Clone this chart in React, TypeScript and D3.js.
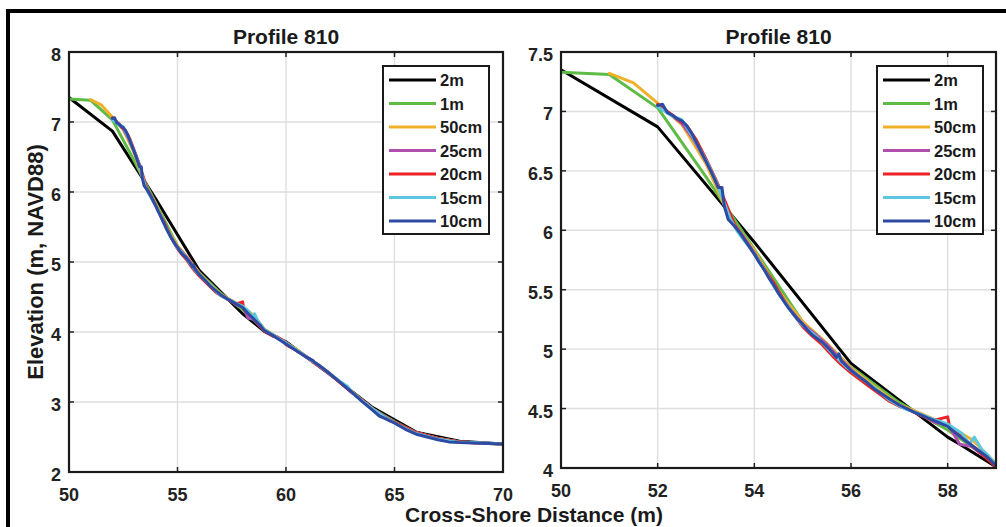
import React from "react";
import * as d3 from "d3";

type Pt = [number, number];

const seriesNames = ["2m", "1m", "50cm", "25cm", "20cm", "15cm", "10cm"];
const seriesColors = ["#000000", "#5DBB46", "#EFB12A", "#B04FAE", "#EE2224", "#5CC8E0", "#2E4BA4"];

const s2m: Pt[] = [
  [50, 7.35], [52, 6.87], [54, 5.9], [56, 4.88], [58, 4.26], [58.25, 4.2], [59, 4.01],
  [60, 3.86], [62, 3.4], [64, 2.92], [66, 2.57], [68, 2.44], [70, 2.4],
];
const s1m: Pt[] = [
  [50, 7.33], [51, 7.31], [52, 7.03], [53, 6.45], [54, 5.84], [55, 5.23], [56, 4.85], [57, 4.55],
  [58, 4.32], [59, 4.04], [60, 3.85], [61, 3.63], [62, 3.41], [63, 3.16], [64, 2.9], [65, 2.72],
  [66, 2.56], [67, 2.48], [68, 2.43], [69, 2.41], [70, 2.4],
];
const s50cm: Pt[] = [
  [51, 7.32], [51.5, 7.24], [52, 7.07], [52.5, 6.89], [53, 6.56], [53.5, 6.1], [54, 5.83], [54.5, 5.49],
  [55, 5.23], [55.5, 5.05], [56, 4.84], [56.5, 4.68], [57, 4.53], [57.5, 4.45], [58, 4.36], [58.5, 4.24],
  [59, 4.04], [59.5, 3.94], [60, 3.84], [60.5, 3.75], [61, 3.63], [61.5, 3.53], [62, 3.41], [62.5, 3.28],
  [63, 3.15], [63.5, 3.02], [64, 2.9], [64.5, 2.8], [65, 2.71], [65.5, 2.63], [66, 2.56], [67, 2.48],
  [68, 2.43], [69, 2.41], [70, 2.4],
];
const s25cm: Pt[] = [
  [52, 7.05], [52.25, 6.98], [52.5, 6.9], [52.75, 6.76], [53, 6.58], [53.25, 6.38], [53.5, 6.1], [53.75, 5.96],
  [54, 5.81], [54.25, 5.64], [54.5, 5.47], [54.75, 5.33], [55, 5.21], [55.25, 5.13], [55.5, 5.04], [55.75, 4.93],
  [56, 4.83], [56.25, 4.74], [56.5, 4.66], [56.75, 4.58], [57, 4.52], [57.25, 4.48], [57.5, 4.44], [57.75, 4.38],
  [58, 4.37], [58.25, 4.2], [58.5, 4.18], [58.75, 4.1], [59, 4.03], [59.5, 3.94], [60, 3.85], [60.5, 3.73],
  [61, 3.64], [61.5, 3.52], [62, 3.4], [62.5, 3.28], [63, 3.14], [63.5, 3.03], [64, 2.9], [64.5, 2.8],
  [65, 2.71], [66, 2.56], [67, 2.48], [68, 2.43], [70, 2.4],
];
const s20cm: Pt[] = [
  [52, 7.06], [52.2, 7.0], [52.4, 6.94], [52.6, 6.88], [52.8, 6.76], [53, 6.6], [53.2, 6.43], [53.4, 6.24],
  [53.6, 6.04], [53.8, 5.92], [54, 5.8], [54.2, 5.68], [54.4, 5.56], [54.6, 5.42], [54.8, 5.3], [55, 5.19],
  [55.2, 5.11], [55.4, 5.04], [55.6, 4.95], [55.8, 4.87], [56, 4.8], [56.2, 4.74], [56.4, 4.68], [56.6, 4.62],
  [56.8, 4.56], [57, 4.52], [57.2, 4.49], [57.4, 4.45], [57.7, 4.4], [58, 4.43], [58.05, 4.33], [58.3, 4.26],
  [58.5, 4.19], [58.7, 4.12], [59, 4.01], [59.4, 3.94], [59.6, 3.93], [59.8, 3.89], [60, 3.82], [60.4, 3.75],
  [60.8, 3.67], [61.2, 3.58], [61.6, 3.5], [62, 3.41], [62.4, 3.3], [62.8, 3.2], [63.2, 3.1], [63.6, 3.0],
  [64, 2.9], [64.4, 2.8], [64.8, 2.73], [65.2, 2.68], [66, 2.56], [67, 2.48], [68, 2.43], [70, 2.4],
];
const s15cm: Pt[] = [
  [52, 7.04], [52.15, 7.0], [52.3, 6.96], [52.45, 6.94], [52.5, 6.93], [52.6, 6.87], [52.75, 6.77], [52.9, 6.66],
  [53.05, 6.55], [53.2, 6.42], [53.35, 6.26], [53.5, 6.1], [53.65, 5.99], [53.8, 5.91], [53.95, 5.83], [54.1, 5.74],
  [54.25, 5.64], [54.4, 5.53], [54.55, 5.44], [54.7, 5.36], [54.85, 5.27], [55, 5.2], [55.3, 5.1], [55.6, 4.97],
  [55.9, 4.85], [56.2, 4.76], [56.5, 4.67], [56.8, 4.57], [57.1, 4.5], [57.4, 4.46], [57.7, 4.41], [58, 4.37],
  [58.3, 4.29], [58.45, 4.2], [58.55, 4.26], [58.7, 4.16], [58.85, 4.1], [59, 4.03], [59.5, 3.94], [60, 3.84],
  [60.5, 3.74], [61, 3.63], [61.5, 3.53], [62, 3.41], [62.5, 3.29], [62.85, 3.22], [63, 3.15], [63.5, 3.02],
  [64, 2.9], [64.5, 2.79], [65, 2.7], [65.5, 2.62], [66, 2.55], [67, 2.47], [68, 2.42], [68.7, 2.42], [70, 2.4],
];
const s10cm: Pt[] = [
  [52.0, 7.05], [52.1, 7.06], [52.2, 6.99], [52.3, 6.97], [52.4, 6.94], [52.5, 6.92], [52.6, 6.88], [52.7, 6.82],
  [52.8, 6.74], [52.9, 6.66], [53.0, 6.58], [53.1, 6.5], [53.2, 6.41], [53.25, 6.36], [53.33, 6.36], [53.38, 6.2],
  [53.46, 6.09], [53.6, 6.03], [53.7, 5.98], [53.8, 5.92], [53.9, 5.86], [54.0, 5.8], [54.1, 5.73], [54.2, 5.67],
  [54.3, 5.6], [54.4, 5.54], [54.5, 5.47], [54.6, 5.41], [54.7, 5.35], [54.8, 5.3], [54.9, 5.25], [55.0, 5.21],
  [55.1, 5.16], [55.2, 5.12], [55.3, 5.09], [55.4, 5.06], [55.5, 5.02], [55.6, 4.98], [55.7, 4.93], [55.75, 4.96],
  [55.8, 4.9], [55.9, 4.86], [56.0, 4.82], [56.1, 4.79], [56.2, 4.76], [56.3, 4.73], [56.5, 4.66], [56.8, 4.58],
  [57, 4.53], [57.3, 4.47], [57.6, 4.42], [58, 4.35], [58.3, 4.25], [58.6, 4.16], [58.8, 4.1], [59, 4.02],
  [59.5, 3.93], [60, 3.83], [60.5, 3.73], [61, 3.63], [61.25, 3.59], [61.3, 3.57], [61.5, 3.53], [62, 3.41],
  [62.5, 3.28], [63, 3.15], [63.5, 3.01], [64, 2.88], [64.3, 2.8], [64.6, 2.76], [65, 2.7], [65.5, 2.61],
  [66, 2.54], [66.5, 2.5], [67, 2.46], [67.5, 2.43], [68, 2.42], [69, 2.41], [70, 2.4],
];

const allSeries: Pt[][] = [s2m, s1m, s50cm, s25cm, s20cm, s15cm, s10cm];

const leftXTicks = [50, 55, 60, 65, 70];
const leftYTicks = [2, 3, 4, 5, 6, 7, 8];
const rightXTicks = [50, 52, 54, 56, 58];
const rightYTicks = [4, 4.5, 5, 5.5, 6, 6.5, 7, 7.5];
const leftXDomain: [number, number] = [50, 70];
const leftYDomain: [number, number] = [2, 8];
const rightXDomain: [number, number] = [50, 59];
const rightYDomain: [number, number] = [4, 7.5];
const panelTitle = "Profile 810";
const xLabel = "Cross-Shore Distance (m)";
const yLabel = "Elevation (m, NAVD88)";

const FONT = "'Liberation Sans', Arial, Helvetica, sans-serif";

type PanelProps = {
  id: string;
  x0: number; x1: number; y0: number; y1: number;
  xDomain: [number, number]; yDomain: [number, number];
  xTicks: number[]; yTicks: number[];
  legendX: number; legendY: number;
};

function Panel(p: PanelProps) {
  const xs = d3.scaleLinear().domain(p.xDomain).range([p.x0, p.x1]);
  const ys = d3.scaleLinear().domain(p.yDomain).range([p.y1, p.y0]);
  const line = d3.line<Pt>().x((d) => xs(d[0])).y((d) => ys(d[1]));
  const tickLen = 5;
  const fmt = (v: number) => d3.format("~g")(v);
  const legW = 106;
  const rowH = 23.5;
  const legH = 168;
  return (
    <g>
      <defs>
        <clipPath id={`clip-${p.id}`}>
          <rect x={p.x0} y={p.y0} width={p.x1 - p.x0} height={p.y1 - p.y0} />
        </clipPath>
      </defs>
      <rect x={p.x0} y={p.y0} width={p.x1 - p.x0} height={p.y1 - p.y0} fill="#fff" />
      {p.xTicks.map((t) => (
        <line key={`gx${t}`} x1={xs(t)} x2={xs(t)} y1={p.y0} y2={p.y1} stroke="#dedede" strokeWidth={1.4} />
      ))}
      {p.yTicks.map((t) => (
        <line key={`gy${t}`} x1={p.x0} x2={p.x1} y1={ys(t)} y2={ys(t)} stroke="#dedede" strokeWidth={1.4} />
      ))}
      <g clipPath={`url(#clip-${p.id})`}>
        {allSeries.map((s, i) => (
          <path key={i} d={line(s) || ""} fill="none" stroke={seriesColors[i]} strokeWidth={3}
            strokeLinejoin="round" strokeLinecap="round" />
        ))}
      </g>
      {p.xTicks.map((t) => (
        <g key={`tx${t}`}>
          <line x1={xs(t)} x2={xs(t)} y1={p.y1} y2={p.y1 - tickLen} stroke="#222" strokeWidth={1.5} />
          <line x1={xs(t)} x2={xs(t)} y1={p.y0} y2={p.y0 + tickLen} stroke="#222" strokeWidth={1.5} />
          <text x={xs(t)} y={p.y1 + 29} textAnchor="middle" fontFamily={FONT} fontWeight="bold" fontSize={18} fill="#222">
            {fmt(t)}
          </text>
        </g>
      ))}
      {p.yTicks.map((t) => (
        <g key={`ty${t}`}>
          <line x1={p.x0} x2={p.x0 + tickLen} y1={ys(t)} y2={ys(t)} stroke="#222" strokeWidth={1.5} />
          <line x1={p.x1} x2={p.x1 - tickLen} y1={ys(t)} y2={ys(t)} stroke="#222" strokeWidth={1.5} />
          <text x={p.x0 - 8} y={ys(t) + 9} textAnchor="end" fontFamily={FONT} fontWeight="bold" fontSize={18} fill="#222">
            {fmt(t)}
          </text>
        </g>
      ))}
      <rect x={p.x0} y={p.y0} width={p.x1 - p.x0} height={p.y1 - p.y0} fill="none" stroke="#1a1a1a" strokeWidth={2.2} />
      <text x={(p.x0 + p.x1) / 2} y={44} textAnchor="middle" fontFamily={FONT} fontWeight="bold" fontSize={21} fill="#1a1a1a">
        {panelTitle}
      </text>
      <g>
        <rect x={p.legendX} y={p.legendY} width={legW} height={legH} fill="#fff" stroke="#1a1a1a" strokeWidth={2} />
        {seriesNames.map((n, i) => {
          const yy = p.legendY + 14 + i * rowH;
          return (
            <g key={n}>
              <line x1={p.legendX + 6} x2={p.legendX + 53} y1={yy} y2={yy} stroke={seriesColors[i]} strokeWidth={3} />
              <text x={p.legendX + 57} y={yy + 6} fontFamily={FONT} fontWeight="bold" fontSize={16.5} fill="#1a1a1a">
                {n}
              </text>
            </g>
          );
        })}
      </g>
    </g>
  );
}

export default function App() {
  return (
    <svg width={1006} height={527} style={{ position: "absolute", left: 0, top: 0, background: "#fff" }}>
      <rect x={0} y={0} width={1006} height={527} fill="#fff" />
      <rect x={8} y={11} width={1040} height={560} fill="none" stroke="#000" strokeWidth={4} />
      <Panel id="left" x0={69} x1={503} y0={52} y1={472} xDomain={leftXDomain} yDomain={leftYDomain}
        xTicks={leftXTicks} yTicks={leftYTicks} legendX={383} legendY={66} />
      <Panel id="right" x0={561} x1={996} y0={52} y1={468} xDomain={rightXDomain} yDomain={rightYDomain}
        xTicks={rightXTicks} yTicks={rightYTicks} legendX={877} legendY={66} />
      <text x={534} y={522} textAnchor="middle" fontFamily={FONT} fontWeight="bold" fontSize={21} fill="#1a1a1a">
        {xLabel}
      </text>
      <text transform="translate(43,262) rotate(-90)" textAnchor="middle" fontFamily={FONT} fontWeight="bold"
        fontSize={22} fill="#1a1a1a">
        {yLabel}
      </text>
    </svg>
  );
}
